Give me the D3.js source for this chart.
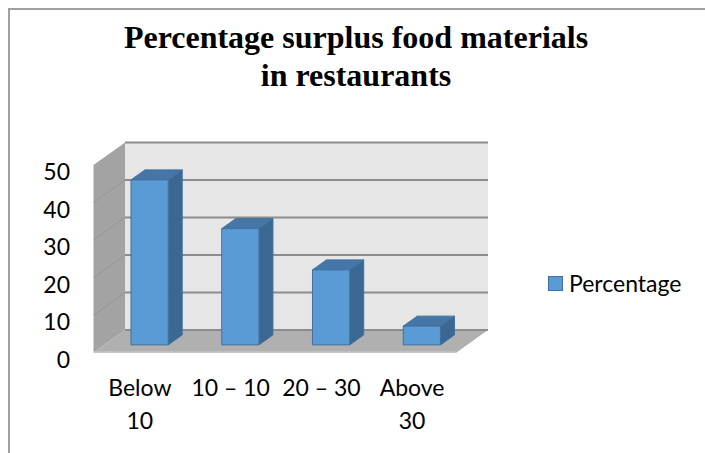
<!doctype html>
<html>
  <head>
    <title>Percentage surplus food materials</title>
    <script src="https://d3js.org/d3.v7.min.js"></script>
    <style>
        body {
            margin: 0;
            padding: 0;
            background: #fff;
        }
        svg text {
            font-family: Lato, "Open Sans", Arial, sans-serif;
            fill: #000;
        }
        .title {
            font-family: "Liberation Serif", "Times New Roman", serif !important;
            font-weight: bold;
            font-size: 32px;
        }
    </style>
  </head>
  <body>
    <div id="chart"></div>
    <script>
        // chart data
        var categories = [["Below", "10"], ["10 \u2013 10"], ["20 \u2013 30"], ["Above", "30"]];
        var values = [44, 31, 20, 5];
        var yTicks = [0, 10, 20, 30, 40, 50];
        var seriesName = "Percentage";

        var width = 705;
        var height = 453;

        var svg = d3.select("#chart")
            .append("svg")
            .attr("width", width)
            .attr("height", height);

        // frame of the chart area (only top and left edges are in view)
        svg.append("path")
            .attr("d", "M9," + height + "V9H" + width)
            .attr("fill", "none")
            .attr("stroke", "#a0a0a0")
            .attr("stroke-width", 2);

        // title
        var title = svg.append("text")
            .attr("class", "title")
            .attr("text-anchor", "middle");
        title.append("tspan").attr("x", 356).attr("y", 48).text("Percentage surplus food materials");
        title.append("tspan").attr("x", 356).attr("y", 86).text("in restaurants");

        /*
        3D geometry: front plane scales plus a depth offset
        */
        var depth = [31.5, -22.4];   // floor / wall depth
        var barDepth = [14, -10];    // depth of one bar
        var barShift = 0.34;         // where bars sit inside the floor depth

        var x = d3.scaleBand()
            .domain(d3.range(categories.length))
            .range([93.5, 456.5]);

        var y = d3.scaleLinear()
            .domain([0, 50])
            .range([352.5, 165]);

        var x0 = x.range()[0], x1 = x.range()[1];
        var yb = y(0), yt = y(50);

        function pts(arr) {
            return arr.map((p) => p[0] + "," + p[1]).join(" ");
        }

        // side wall
        svg.append("polygon")
            .attr("points", pts([[x0, yb], [x0, yt], [x0 + depth[0], yt + depth[1]], [x0 + depth[0], yb + depth[1]]]))
            .attr("fill", "#a3a3a3");

        // back wall
        svg.append("polygon")
            .attr("points", pts([[x0 + depth[0], yt + depth[1]], [x1 + depth[0], yt + depth[1]], [x1 + depth[0], yb + depth[1]], [x0 + depth[0], yb + depth[1]]]))
            .attr("fill", "#e6e6e6");

        // floor
        svg.append("polygon")
            .attr("points", pts([[x0, yb], [x1, yb], [x1 + depth[0], yb + depth[1]], [x0 + depth[0], yb + depth[1]]]))
            .attr("fill", "#b0b0b0");
        svg.append("line")
            .attr("x1", x0).attr("x2", x1)
            .attr("y1", yb - 0.5).attr("y2", yb - 0.5)
            .attr("stroke", "#c6c6c6")
            .attr("stroke-width", 1.5);

        // gridlines on back wall
        svg.selectAll("line.grid")
            .data(yTicks)
            .enter()
            .append("line")
            .attr("class", "grid")
            .attr("x1", x0 + depth[0])
            .attr("x2", x1 + depth[0])
            .attr("y1", (d) => y(d) + depth[1])
            .attr("y2", (d) => y(d) + depth[1])
            .attr("stroke", "#8c8c8c")
            .attr("stroke-width", 2);

        // gridlines on side wall
        svg.selectAll("line.sgrid")
            .data(yTicks.slice(1, -1))
            .enter()
            .append("line")
            .attr("class", "sgrid")
            .attr("x1", x0)
            .attr("x2", x0 + depth[0])
            .attr("y1", (d) => y(d))
            .attr("y2", (d) => y(d) + depth[1])
            .attr("stroke", "#959595")
            .attr("stroke-width", 1);

        // y labels
        svg.selectAll("text.ytick")
            .data(yTicks)
            .enter()
            .append("text")
            .attr("class", "ytick")
            .attr("x", 70)
            .attr("y", (d) => y(d) + 6)
            .attr("text-anchor", "end")
            .attr("dominant-baseline", "central")
            .style("font-size", "23px")
            .text((d) => d);

        // bars
        var bw = x.bandwidth() * 0.41;
        var bars = svg.selectAll("g.bar")
            .data(values)
            .enter()
            .append("g")
            .attr("class", "bar")
            .attr("stroke", "#41719c")
            .attr("stroke-width", 1)
            .attr("stroke-linejoin", "round");

        function barBox(d, i) {
            var left = x(i) + (x.bandwidth() - bw) / 2 + barShift * depth[0];
            var bottom = y(0) + barShift * depth[1];
            var top = bottom - (y(0) - y(d));
            return {l: left, r: left + bw, b: bottom, t: top};
        }

        bars.append("polygon")
            .attr("points", (d, i) => {
                var b = barBox(d, i);
                return pts([[b.r, b.b], [b.r, b.t], [b.r + barDepth[0], b.t + barDepth[1]], [b.r + barDepth[0], b.b + barDepth[1]]]);
            })
            .attr("fill", "#3b6892");

        bars.append("polygon")
            .attr("points", (d, i) => {
                var b = barBox(d, i);
                return pts([[b.l, b.t], [b.r, b.t], [b.r + barDepth[0], b.t + barDepth[1]], [b.l + barDepth[0], b.t + barDepth[1]]]);
            })
            .attr("fill", "#4676a8");

        bars.append("rect")
            .attr("x", (d, i) => barBox(d, i).l)
            .attr("y", (d, i) => barBox(d, i).t)
            .attr("width", bw)
            .attr("height", (d, i) => barBox(d, i).b - barBox(d, i).t)
            .attr("fill", "#5b9bd5");

        // category labels
        var xl = svg.selectAll("text.xtick")
            .data(categories)
            .enter()
            .append("text")
            .attr("class", "xtick")
            .attr("text-anchor", "middle")
            .style("font-size", "23px");
        xl.selectAll("tspan")
            .data((d, i) => d.map((t, j) => ({t: t, i: i, j: j})))
            .enter()
            .append("tspan")
            .attr("x", (d) => x(d.i) + x.bandwidth() / 2 + 1)
            .attr("y", (d) => 396 + d.j * 33)
            .text((d) => d.t);

        // legend
        svg.append("rect")
            .attr("x", 548.5)
            .attr("y", 276.5)
            .attr("width", 14)
            .attr("height", 14)
            .attr("fill", "#5b9bd5")
            .attr("stroke", "#41719c")
            .attr("stroke-width", 1);
        svg.append("text")
            .attr("x", 569)
            .attr("y", 292)
            .style("font-size", "23px")
            .text(seriesName);
    </script>
  </body>
</html>
